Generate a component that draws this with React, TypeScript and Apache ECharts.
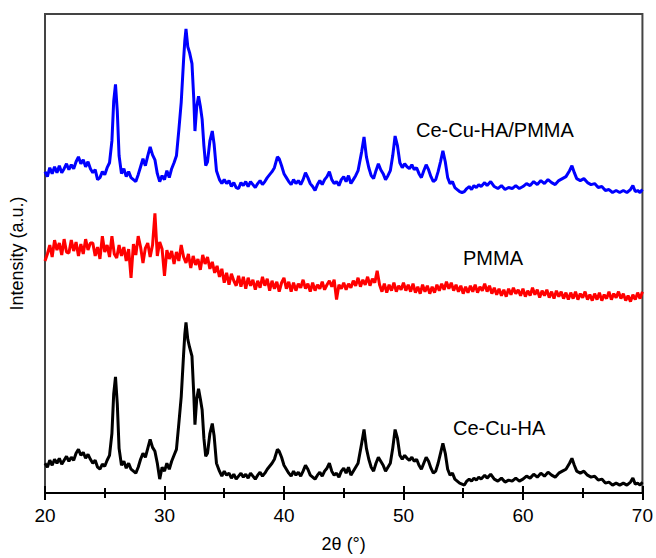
import React, { useEffect, useRef } from "react";
import * as echarts from "echarts";

const FONT = "'Liberation Sans', Arial, Helvetica, sans-serif";

const xTicks = [20, 30, 40, 50, 60, 70];

// Ce-Cu-HA (black), [2θ, intensity a.u.]
const ceCuHA: [number, number][] = [
  [20.0, 30], [20.2, 26], [20.4, 33], [20.6, 28], [20.8, 34], [21.0, 30], [21.2, 35], [21.4, 29], [21.6, 33], [21.8, 37],
  [22.0, 32], [22.2, 36], [22.4, 33], [22.6, 40], [22.8, 44], [23.0, 38], [23.2, 41], [23.4, 35], [23.6, 39], [23.8, 34],
  [24.0, 30], [24.2, 33], [24.4, 26], [24.6, 24], [24.8, 29], [25.0, 27], [25.2, 33], [25.4, 38], [25.6, 60], [25.75, 100],
  [25.9, 117], [26.05, 90], [26.2, 45], [26.4, 28], [26.6, 32], [26.8, 25], [27.0, 30], [27.2, 24], [27.4, 22], [27.6, 20],
  [27.8, 26], [28.0, 34], [28.2, 40], [28.4, 36], [28.6, 45], [28.8, 54], [29.0, 46], [29.2, 42], [29.4, 30], [29.6, 14],
  [29.8, 26], [30.0, 22], [30.2, 30], [30.4, 24], [30.6, 32], [30.8, 38], [31.0, 44], [31.2, 70], [31.4, 97], [31.6, 140],
  [31.7, 160], [31.8, 172], [31.95, 155], [32.1, 147], [32.3, 138], [32.45, 100], [32.55, 69], [32.7, 95], [32.85, 105], [33.0, 95],
  [33.15, 84], [33.3, 55], [33.45, 37], [33.6, 40], [33.8, 60], [34.0, 70], [34.15, 58], [34.35, 30], [34.6, 22], [34.8, 17],
  [35.0, 22], [35.2, 18], [35.4, 20], [35.6, 15], [35.8, 19], [36.0, 14], [36.2, 17], [36.4, 20], [36.6, 16], [36.8, 19],
  [37.0, 15], [37.2, 20], [37.4, 17], [37.6, 14], [37.8, 18], [38.0, 21], [38.2, 17], [38.4, 20], [38.6, 24], [38.8, 27],
  [39.0, 30], [39.2, 34], [39.45, 44], [39.6, 42], [39.8, 36], [40.0, 28], [40.2, 24], [40.4, 20], [40.6, 17], [40.8, 22],
  [41.0, 18], [41.2, 21], [41.4, 17], [41.6, 22], [41.8, 28], [42.0, 24], [42.2, 18], [42.4, 16], [42.6, 14], [42.8, 18],
  [43.0, 21], [43.2, 17], [43.4, 22], [43.6, 25], [43.8, 30], [44.0, 22], [44.2, 18], [44.4, 20], [44.6, 16], [44.8, 22],
  [45.0, 25], [45.2, 20], [45.4, 26], [45.6, 18], [45.8, 22], [46.0, 26], [46.2, 30], [46.5, 50], [46.7, 64], [46.9, 45],
  [47.1, 34], [47.3, 26], [47.5, 22], [47.7, 30], [47.9, 36], [48.1, 32], [48.3, 28], [48.5, 22], [48.7, 26], [48.9, 30],
  [49.1, 45], [49.3, 64], [49.5, 55], [49.7, 38], [49.9, 34], [50.1, 38], [50.3, 35], [50.5, 33], [50.7, 36], [50.9, 32],
  [51.1, 34], [51.3, 28], [51.5, 24], [51.7, 30], [51.9, 36], [52.1, 32], [52.3, 25], [52.5, 20], [52.7, 22], [52.9, 30],
  [53.1, 40], [53.3, 50], [53.5, 40], [53.7, 24], [53.9, 18], [54.1, 20], [54.3, 14], [54.5, 12], [54.7, 10], [54.9, 9],
  [55.1, 8], [55.3, 12], [55.5, 14], [55.7, 12], [55.9, 15], [56.1, 13], [56.3, 16], [56.5, 14], [56.8, 18], [57.0, 15],
  [57.3, 19], [57.6, 14], [57.9, 12], [58.2, 15], [58.5, 11], [58.8, 13], [59.1, 12], [59.4, 15], [59.7, 12], [60.0, 14],
  [60.3, 17], [60.6, 15], [60.9, 19], [61.2, 16], [61.5, 20], [61.8, 17], [62.1, 21], [62.4, 18], [62.7, 16], [63.0, 20],
  [63.3, 22], [63.6, 24], [63.9, 30], [64.1, 35], [64.3, 28], [64.5, 22], [64.8, 20], [65.1, 22], [65.4, 18], [65.7, 16],
  [66.0, 17], [66.3, 13], [66.6, 14], [66.9, 10], [67.2, 11], [67.5, 8], [67.8, 10], [68.1, 8], [68.4, 10], [68.7, 8],
  [69.0, 11], [69.2, 15], [69.4, 9], [69.6, 10], [69.8, 8], [70.0, 11],
];

// Ce-Cu-HA/PMMA (blue)
const ceCuHAPMMA: [number, number][] = [
  [20.0, 324], [20.2, 319], [20.4, 328], [20.6, 322], [20.8, 329], [21.0, 323], [21.2, 330], [21.4, 323], [21.6, 327], [21.8, 332],
  [22.0, 326], [22.2, 331], [22.4, 327], [22.6, 334], [22.8, 339], [23.0, 332], [23.2, 336], [23.4, 329], [23.6, 334], [23.8, 327],
  [24.0, 323], [24.2, 326], [24.4, 316], [24.6, 318], [24.8, 324], [25.0, 321], [25.2, 328], [25.4, 333], [25.6, 355], [25.75, 395],
  [25.9, 412], [26.05, 385], [26.2, 340], [26.4, 322], [26.6, 327], [26.8, 319], [27.0, 324], [27.2, 318], [27.4, 316], [27.6, 314],
  [27.8, 321], [28.0, 329], [28.2, 337], [28.4, 330], [28.6, 340], [28.8, 349], [29.0, 341], [29.2, 336], [29.4, 322], [29.6, 314],
  [29.8, 320], [30.0, 316], [30.2, 325], [30.4, 318], [30.6, 327], [30.8, 333], [31.0, 340], [31.2, 366], [31.4, 394], [31.6, 437],
  [31.7, 456], [31.8, 468], [31.95, 450], [32.1, 444], [32.3, 433], [32.45, 398], [32.55, 365], [32.7, 390], [32.85, 400], [33.0, 390],
  [33.15, 377], [33.3, 350], [33.45, 330], [33.6, 334], [33.8, 355], [34.0, 365], [34.15, 352], [34.35, 325], [34.6, 316], [34.8, 312],
  [35.0, 316], [35.2, 312], [35.4, 315], [35.6, 309], [35.8, 313], [36.0, 308], [36.2, 307], [36.4, 313], [36.6, 310], [36.8, 314],
  [37.0, 309], [37.2, 314], [37.4, 311], [37.6, 308], [37.8, 312], [38.0, 315], [38.2, 311], [38.4, 314], [38.6, 318], [38.8, 321],
  [39.0, 324], [39.2, 328], [39.45, 339], [39.6, 337], [39.8, 330], [40.0, 322], [40.2, 318], [40.4, 314], [40.6, 311], [40.8, 316],
  [41.0, 312], [41.2, 315], [41.4, 311], [41.6, 316], [41.8, 323], [42.0, 318], [42.2, 312], [42.4, 309], [42.6, 305], [42.8, 311],
  [43.0, 315], [43.2, 311], [43.4, 316], [43.6, 319], [43.8, 324], [44.0, 316], [44.2, 312], [44.4, 314], [44.6, 310], [44.8, 316],
  [45.0, 319], [45.2, 314], [45.4, 320], [45.6, 312], [45.8, 316], [46.0, 320], [46.2, 325], [46.5, 344], [46.7, 359], [46.9, 339],
  [47.1, 328], [47.3, 320], [47.5, 317], [47.7, 325], [47.9, 332], [48.1, 326], [48.3, 322], [48.5, 316], [48.7, 320], [48.9, 325],
  [49.1, 340], [49.3, 360], [49.5, 350], [49.7, 333], [49.9, 328], [50.1, 332], [50.3, 329], [50.5, 327], [50.7, 331], [50.9, 326],
  [51.1, 328], [51.3, 322], [51.5, 318], [51.7, 325], [51.9, 331], [52.1, 326], [52.3, 319], [52.5, 314], [52.7, 316], [52.9, 324],
  [53.1, 334], [53.3, 345], [53.5, 334], [53.7, 318], [53.9, 312], [54.1, 314], [54.3, 308], [54.5, 306], [54.7, 304], [54.9, 303],
  [55.1, 304], [55.3, 307], [55.5, 309], [55.7, 306], [55.9, 310], [56.1, 308], [56.3, 311], [56.5, 309], [56.8, 313], [57.0, 310],
  [57.3, 314], [57.6, 309], [57.9, 307], [58.2, 310], [58.5, 306], [58.8, 308], [59.1, 307], [59.4, 310], [59.7, 307], [60.0, 309],
  [60.3, 312], [60.6, 310], [60.9, 314], [61.2, 311], [61.5, 315], [61.8, 312], [62.1, 316], [62.4, 313], [62.7, 311], [63.0, 315],
  [63.3, 317], [63.6, 319], [63.9, 325], [64.1, 330], [64.3, 323], [64.5, 317], [64.8, 315], [65.1, 317], [65.4, 313], [65.7, 311],
  [66.0, 312], [66.3, 308], [66.6, 309], [66.9, 305], [67.2, 306], [67.5, 303], [67.8, 305], [68.1, 303], [68.4, 305], [68.7, 303],
  [69.0, 306], [69.2, 310], [69.4, 304], [69.6, 305], [69.8, 303], [70.0, 306],
];

// PMMA (red), sampled every 0.2° from 20°
const pmmaStart = 20;
const pmmaStep = 0.2;
const pmmaValues: number[] = [
  234, 241, 250, 238, 255, 245, 252, 240, 256, 243,
  242, 255, 244, 253, 239, 251, 241, 256, 245, 252,
  252, 239, 248, 236, 259, 243, 250, 238, 259, 241,
  237, 250, 239, 248, 234, 246, 217, 251, 240, 259,
  248, 232, 247, 252, 238, 250, 282, 239, 253, 246,
  219, 245, 236, 244, 231, 243, 234, 250, 238, 232,
  241, 227, 239, 230, 236, 225, 240, 231, 238, 226,
  233, 222, 229, 218, 226, 212, 222, 210, 221, 214,
  209, 219, 208, 218, 206, 217, 209, 215, 205, 214,
  207, 218, 209, 216, 204, 214, 206, 213, 203, 212,
  217, 206, 213, 203, 212, 204, 211, 207, 215, 206,
  211, 203, 212, 204, 210, 206, 213, 205, 210, 214,
  208, 215, 195, 210, 206, 212, 205, 211, 207, 214,
  209, 217, 208, 215, 210, 218, 209, 216, 212, 224,
  210, 203, 211, 202, 210, 204, 212, 203, 209, 205,
  212, 204, 210, 203, 211, 202, 208, 201, 210, 203,
  209, 201, 208, 202, 210, 204, 211, 205, 213, 206,
  212, 204, 210, 203, 209, 201, 208, 202, 209, 203,
  210, 202, 208, 204, 211, 203, 209, 201, 207, 200,
  206, 199, 205, 198, 206, 200, 207, 201, 205, 199,
  206, 198, 204, 199, 207, 200, 205, 197, 204, 199,
  205, 197, 203, 196, 204, 198, 203, 196, 202, 195,
  202, 196, 203, 195, 201, 197, 203, 195, 200, 194,
  201, 195, 202, 194, 200, 196, 203, 195, 201, 197,
  203, 196, 201, 194, 199, 193, 200, 195, 202, 196,
  203,
];

const labels = [
  { text: "Ce-Cu-HA/PMMA", x: 416, y: 130 },
  { text: "PMMA", x: 463, y: 258 },
  { text: "Ce-Cu-HA", x: 453, y: 428 },
];

export default function App() {
  const ref = useRef<HTMLDivElement>(null);
  useEffect(() => {
    if (!ref.current) return;
    const chart = echarts.init(ref.current, undefined, { renderer: "svg" });
    const pmma = pmmaValues.map((v, i) => [+(pmmaStart + i * pmmaStep).toFixed(2), v]);
    const tickStyle = { color: "#000", width: 2 };
    chart.setOption({
      animation: false,
      backgroundColor: "#fff",
      grid: {
        left: 45,
        right: 9,
        top: 14,
        bottom: 61,
        show: true,
        borderColor: "#444",
        borderWidth: 2,
        backgroundColor: "transparent",
      },
      xAxis: [
        {
          type: "value",
          min: xTicks[0],
          max: xTicks[xTicks.length - 1],
          interval: 10,
          position: "bottom",
          axisLine: { show: true, onZero: false, lineStyle: { color: "#000", width: 2 } },
          axisTick: { show: true, inside: false, length: 7, lineStyle: tickStyle },
          minorTick: { show: true, splitNumber: 2, length: 5, lineStyle: tickStyle },
          splitLine: { show: false },
          axisLabel: { fontSize: 19, color: "#000", fontFamily: FONT, margin: 13 },
          name: "2θ (°)",
          nameLocation: "middle",
          nameGap: 42,
          nameTextStyle: { fontSize: 18, color: "#000", fontFamily: FONT },
        },
        {
          type: "value",
          min: xTicks[0],
          max: xTicks[xTicks.length - 1],
          interval: 10,
          position: "bottom",
          axisLine: { show: false, onZero: false },
          axisTick: { show: true, inside: true, length: 7, lineStyle: tickStyle },
          minorTick: { show: true, splitNumber: 2, length: 5, lineStyle: tickStyle },
          splitLine: { show: false },
          axisLabel: { show: false },
        },
      ],
      yAxis: {
        type: "value",
        min: 0,
        max: 483,
        axisLine: { show: false },
        axisTick: { show: false },
        axisLabel: { show: false },
        splitLine: { show: false },
        name: "Intensity (a.u.)",
        nameLocation: "middle",
        nameGap: 19,
        nameTextStyle: { fontSize: 18, color: "#000", fontFamily: FONT },
      },
      series: [
        {
          name: "Ce-Cu-HA",
          type: "line",
          data: ceCuHA,
          showSymbol: false,
          lineStyle: { color: "#000000", width: 3 },
          itemStyle: { color: "#000000" },
        },
        {
          name: "PMMA",
          type: "line",
          data: pmma,
          showSymbol: false,
          lineStyle: { color: "#ff0000", width: 3 },
          itemStyle: { color: "#ff0000" },
        },
        {
          name: "Ce-Cu-HA/PMMA",
          type: "line",
          data: ceCuHAPMMA,
          showSymbol: false,
          lineStyle: { color: "#0000ff", width: 3 },
          itemStyle: { color: "#0000ff" },
        },
      ],
      graphic: labels.map((l) => ({
        type: "text",
        x: l.x,
        y: l.y,
        style: {
          text: l.text,
          fill: "#000",
          fontSize: 20,
          fontFamily: FONT,
          verticalAlign: "middle",
          align: "left",
        },
      })),
    });
    return () => chart.dispose();
  }, []);
  return (
    <div
      ref={ref}
      style={{ position: "absolute", left: 0, top: 0, width: 656, height: 558 }}
    />
  );
}
